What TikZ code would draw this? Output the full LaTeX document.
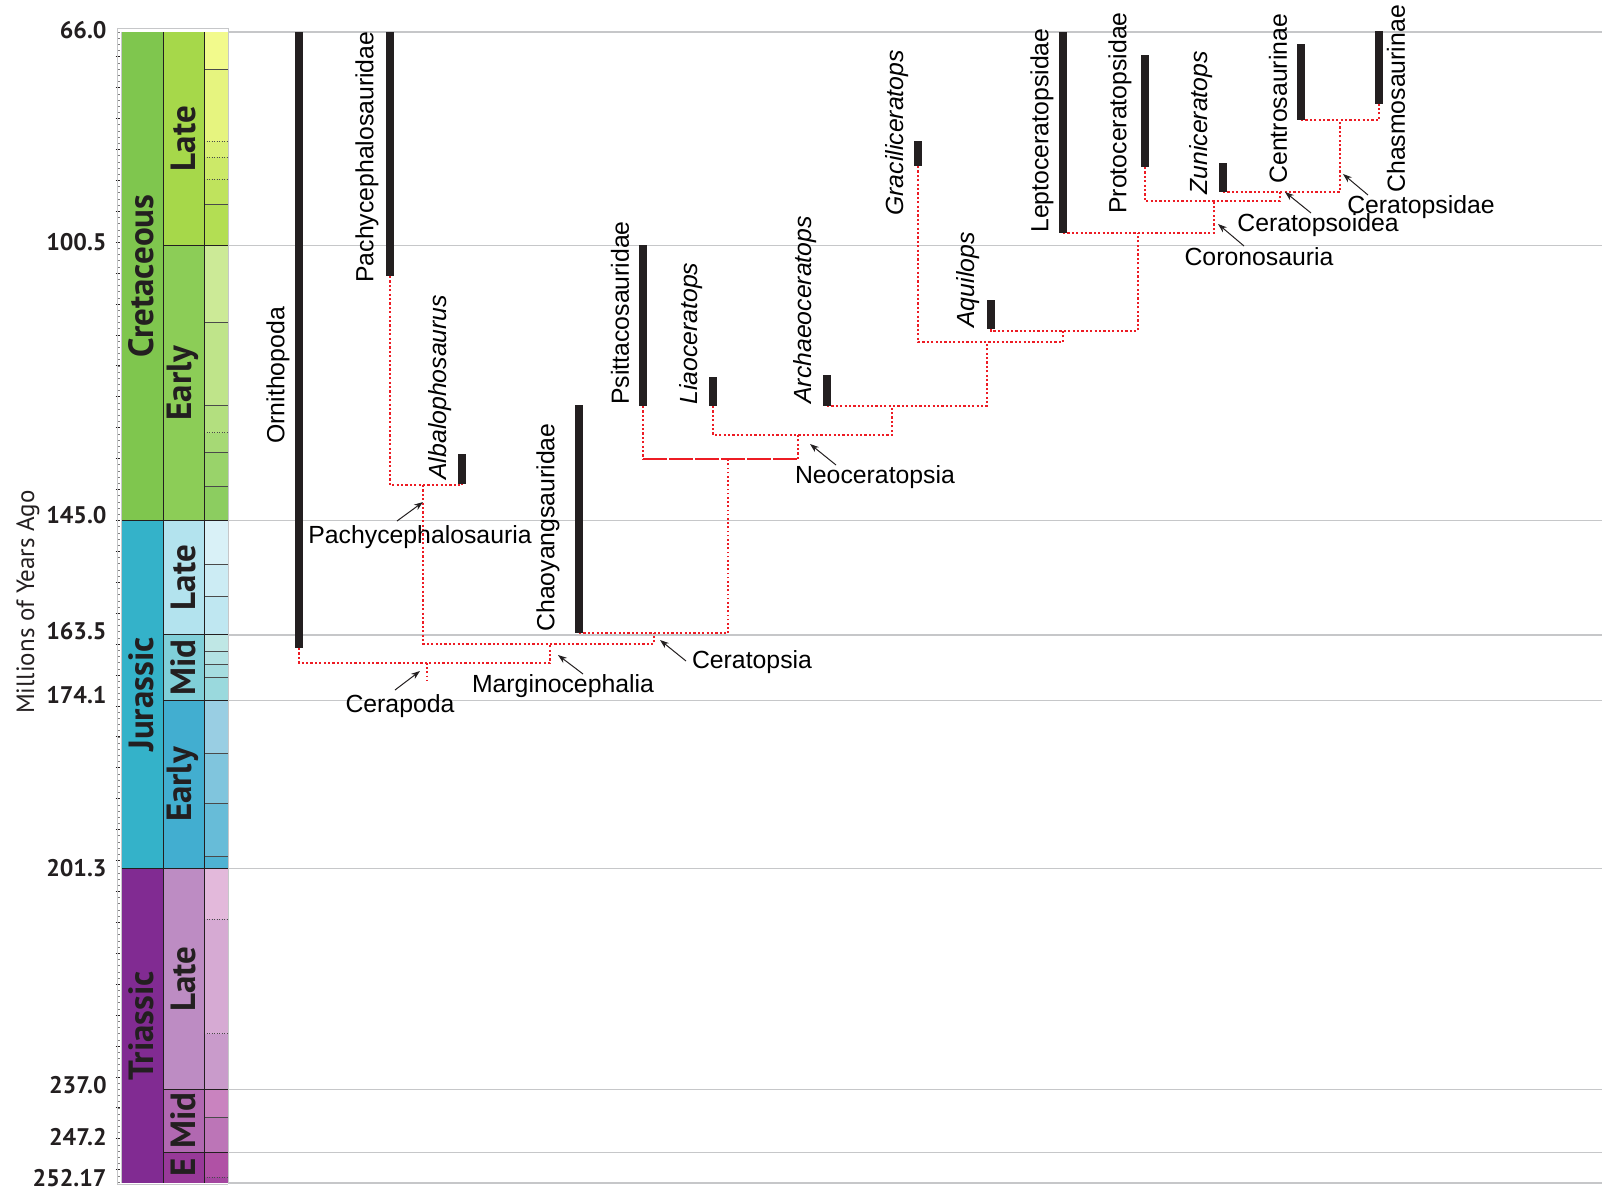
\documentclass[tikz,border=0pt]{standalone}
\usepackage{fontspec}
\setmainfont{Liberation Sans}
\newfontfamily\gtsfont{PT Sans}
\usepackage{tikz}
\usetikzlibrary{arrows.meta}
\definecolor{barblack}{HTML}{231F20}
\definecolor{linkred}{HTML}{ED1C24}
\definecolor{gridgray}{HTML}{C6C7C9}
\definecolor{inkgray}{HTML}{4A4A4A}
\tikzstyle{taxon_bar} = [line width=4pt, barblack]
\tikzstyle{taxon_name} = [rotate=90, anchor=west, inner sep=0pt, font=\fontsize{12.4}{14}\selectfont]
\tikzstyle{clade_name} = [anchor=base, inner sep=0pt, font=\fontsize{12.4}{14}\selectfont]
\tikzstyle{edge_link} = [linkred, line width=1pt, dash pattern=on 1.1pt off 1.1pt]
\tikzstyle{edge_fine} = [linkred, line width=0.6pt, dash pattern=on 0.8pt off 1.3pt]
\tikzstyle{edge_dash} = [linkred, line width=0.7pt, dash pattern=on 12pt off 1pt]
\tikzstyle{edge_note} = [barblack, line width=0.5pt, -{Stealth[length=4.5pt,width=3.2pt]}]
\tikzstyle{grid_line} = [gridgray, line width=0.7pt]
\tikzstyle{stage_line} = [inkgray, line width=0.25pt]
\tikzstyle{unit_line} = [barblack, line width=0.4pt]
\tikzstyle{age_label} = [anchor=east, inner sep=0pt, barblack, font=\gtsfont\bfseries\fontsize{12}{14}\selectfont]
\tikzstyle{unit_name} = [rotate=90, inner sep=0pt, barblack, font=\gtsfont\bfseries\fontsize{17.5}{19}\selectfont]

\begin{document}
\begin{tikzpicture}[x=0.5pt, y=-0.5pt]
\useasboundingbox (0,0) rectangle (1602,1200);

% geologic time scale, y given in Ma
\begin{scope}[y=-3.0915pt, yshift=188.05pt]
\foreach \t in {66,100.5,145,163.5,174.1,201.3,237,247.2,252.17}
  \draw[grid_line] (228,\t) -- (1602,\t);
% stages
\foreach \a/\b/\c in {66/72.1/F2FA8C, 72.1/83.6/E6F47F, 83.6/86.3/D9EF74, 86.3/89.8/CCE968,
    89.8/93.9/BFE35D, 93.9/100.5/B3DE53, 100.5/113/CCEA97, 113/126.3/BFE48A,
    126.3/130.8/B3DF7F, 130.8/133.9/A6D975, 133.9/139.4/99D36A, 139.4/145/8CCD60,
    145/152.1/D9F1F7, 152.1/157.3/CCECF4, 157.3/163.5/BFE7F1, 163.5/166.1/BFE7E5,
    166.1/168.3/B3E2E3, 168.3/170.3/A6DDE0, 170.3/174.1/9AD9DD, 174.1/182.7/99CEE3,
    182.7/190.8/80C5DD, 190.8/199.3/67BCD8, 199.3/201.3/4EB3D3, 201.3/209.5/E3B9DB,
    209.5/228/D6AAD3, 228/237/C99BCB, 237/241.5/C983BF, 241.5/247.2/BC75B7,
    247.2/251.2/B051A5, 251.2/252.17/A4469F}{
  \definecolor{fillnow}{HTML}{\c}
  \fill[fillnow] (204,\a) rectangle (228,\b);
}
\foreach \t in {72.1,93.9,113,126.3,133.9,139.4,152.1,157.3,166.1,168.3,170.3,182.7,190.8,199.3,241.5}
  \draw[stage_line] (204,\t) -- (228,\t);
\foreach \t in {83.6,86.3,89.8,130.8,209.5,228,251.2}
  \draw[stage_line, densely dotted] (204,\t) -- (228,\t);
% epochs
\foreach \a/\b/\c/\n [count=\i] in {66/100.5/A6D84A/Late, 100.5/145/8CCD57/Early,
    145/163.5/B3E3EE/Late, 163.5/174.1/80CFD8/Mid, 174.1/201.3/42AED0/Early,
    201.3/237/BD8CC3/Late, 237/247.2/B168B1/Mid, 247.2/252.17/983999/E}{
  \definecolor{fillnow}{HTML}{\c}
  \fill[fillnow] (163,\a) rectangle (204,\b);
  \node[unit_name] (ep\i) at (183,{(\a+\b)/2}) {\n};
}
% periods
\foreach \a/\b/\c/\n [count=\i] in {66/145/7FC64E/Cretaceous, 145/201.3/34B2C9/Jurassic,
    201.3/252.17/812B92/Triassic}{
  \definecolor{fillnow}{HTML}{\c}
  \fill[fillnow] (121,\a) rectangle (163,\b);
  \node[unit_name] (per\i) at (141,{(\a+\b)/2}) {\n};
}
\foreach \t in {100.5,163.5,174.1,237,247.2}
  \draw[unit_line] (163,\t) -- (228,\t);
\foreach \t in {145,201.3}
  \draw[unit_line] (121,\t) -- (228,\t);
\foreach \xx in {163,204}
  \draw[unit_line] (\xx,66) -- (\xx,252.17);
\draw[gridgray, line width=0.5pt] (121,66) -- (121,252.17) (228,66) -- (228,252.17);
% ticks
\foreach \t in {66,...,252}
  \draw[gray, line width=0.3pt] (117,\t) -- (120,\t);
\foreach \t in {70,75,...,250}
  \draw[barblack, line width=0.4pt] (115.5,\t) -- (120,\t);
\end{scope}
\draw[gridgray, line width=0.5pt] (117,28) -- (228,28) -- (228,32);
\draw[gridgray, line width=0.5pt] (117,28) -- (117,1184) -- (228,1184);

\foreach \a/\yy [count=\i] in {66.0/30, 100.5/242, 145.0/515, 163.5/631, 174.1/695,
    201.3/868, 237.0/1085, 247.2/1137, 252.17/1178}
  \node[age_label] (age\i) at (107,\yy) {\a};
\node[rotate=90, inner sep=0pt, barblack, font=\gtsfont\fontsize{12.5}{14}\selectfont] (axis) at (28,602) {Millions of Years Ago};

% range bars
\coordinate (OrnT) at (299,32);   \coordinate (OrnB) at (299,648);
\coordinate (PcdT) at (390,32);   \coordinate (PcdB) at (390,276);
\coordinate (AlbT) at (462,454);  \coordinate (AlbB) at (462,484);
\coordinate (ChaT) at (579,405);  \coordinate (ChaB) at (579,633);
\coordinate (PsiT) at (643,245);  \coordinate (PsiB) at (643,406);
\coordinate (LiaT) at (713,377);  \coordinate (LiaB) at (713,406);
\coordinate (ArcT) at (827,375);  \coordinate (ArcB) at (827,406);
\coordinate (GraT) at (918,141);  \coordinate (GraB) at (918,166);
\coordinate (AquT) at (991,300);  \coordinate (AquB) at (991,329);
\coordinate (LepT) at (1063,32);  \coordinate (LepB) at (1063,233);
\coordinate (ProT) at (1145,55);  \coordinate (ProB) at (1145,167);
\coordinate (ZunT) at (1223,163); \coordinate (ZunB) at (1223,192);
\coordinate (CenT) at (1301,44);  \coordinate (CenB) at (1301,120);
\coordinate (ChmT) at (1379,31);  \coordinate (ChmB) at (1379,104);

% clade points
\coordinate (Cerapoda) at (427,663);
\coordinate (Root) at (427,680);
\coordinate (Margino) at (550,644);
\coordinate (Pachy) at (423,485);
\coordinate (Ceratopsia) at (654,633);
\coordinate (PsiNeo) at (728,459);
\coordinate (Neocer) at (798,435);
\coordinate (N3) at (892,406);
\coordinate (N4) at (987,342);
\coordinate (N5) at (1063,331);
\coordinate (N6) at (1138,233);
\coordinate (Corono) at (1214,201);
\coordinate (Ceratoid) at (1280,192);
\coordinate (Ceratid) at (1340,120);

\draw[edge_link] (OrnB) |- (Cerapoda) -| (Margino);
\draw[edge_fine] (Cerapoda) -- (Root);
\draw[edge_link] (PcdB) |- (Pachy) -| (AlbB);
\draw[edge_link] (Pachy) |- (Margino) -| (Ceratopsia);
\draw[edge_link] (ChaB) |- (Ceratopsia) -- (PsiNeo |- Ceratopsia);
\draw[edge_fine] (PsiNeo |- Ceratopsia) -- (PsiNeo);
\draw[edge_link] (PsiB) -- (PsiB |- PsiNeo);
\draw[edge_dash] (PsiB |- PsiNeo) -- (Neocer |- PsiNeo);
\draw[edge_link] (Neocer |- PsiNeo) -- (Neocer);
\draw[edge_link] (LiaB) |- (Neocer) -| (N3);
\draw[edge_link] (ArcB) |- (N3) -| (N4);
\draw[edge_link] (GraB) |- (N4) -| (N5);
\draw[edge_link] (AquB) |- (N5) -| (N6);
\draw[edge_link] (LepB) |- (N6) -| (Corono);
\draw[edge_link] (ProB) |- (Corono) -| (Ceratoid);
\draw[edge_link] (ZunB) |- (Ceratoid) -| (Ceratid);
\draw[edge_link] (CenB) |- (Ceratid) -| (ChmB);

\draw[taxon_bar] (OrnT) -- (OrnB);
\draw[taxon_bar] (PcdT) -- (PcdB);
\draw[taxon_bar] (AlbT) -- (AlbB);
\draw[taxon_bar] (ChaT) -- (ChaB);
\draw[taxon_bar] (PsiT) -- (PsiB);
\draw[taxon_bar] (LiaT) -- (LiaB);
\draw[taxon_bar] (ArcT) -- (ArcB);
\draw[taxon_bar] (GraT) -- (GraB);
\draw[taxon_bar] (AquT) -- (AquB);
\draw[taxon_bar] (LepT) -- (LepB);
\draw[taxon_bar] (ProT) -- (ProB);
\draw[taxon_bar] (ZunT) -- (ZunB);
\draw[taxon_bar] (CenT) -- (CenB);
\draw[taxon_bar] (ChmT) -- (ChmB);

% taxon names
\node[taxon_name] (OrnL) at (278,444) {Ornithopoda};
\node[taxon_name] (PcdL) at (367,283) {Pachycephalosauridae};
\node[taxon_name] (AlbL) at (440,480) {\itshape Albalophosaurus};
\node[taxon_name] (ChaL) at (548,632) {Chaoyangsauridae};
\node[taxon_name] (PsiL) at (620,405) {Psittacosauridae};
\node[taxon_name] (LiaL) at (691,405) {\itshape Liaoceratops};
\node[taxon_name] (ArcL) at (805,404) {\itshape Archaeoceratops};
\node[taxon_name] (GraL) at (897,216) {\itshape Graciliceratops};
\node[taxon_name] (AquL) at (968,328) {\itshape Aquilops};
\node[taxon_name] (LepL) at (1042,233) {Leptoceratopsidae};
\node[taxon_name] (ProL) at (1120,214) {Protoceratopsidae};
\node[taxon_name] (ZunL) at (1201,195) {\itshape Zuniceratops};
\node[taxon_name] (CenL) at (1278,184) {Centrosaurinae};
\node[taxon_name] (ChmL) at (1396,193) {Chasmosaurinae};

% clade names
\node[clade_name] (CerapodaL) at (400,712) {Cerapoda};
\node[clade_name] (MarginoL) at (563,692) {Marginocephalia};
\node[clade_name] (PachyL) at (420,543) {Pachycephalosauria};
\node[clade_name] (CeratopsiaL) at (752,668) {Ceratopsia};
\node[clade_name] (NeocerL) at (875,483) {Neoceratopsia};
\node[clade_name] (CoronoL) at (1259,265) {Coronosauria};
\node[clade_name] (CeratoidL) at (1318,231) {Ceratopsoidea};
\node[clade_name] (CeratidL) at (1421,213) {Ceratopsidae};

\coordinate (CerapodaP) at (420,671);
\coordinate (MarginoP) at (558,655);
\coordinate (PachyP) at (423,502);
\coordinate (CeratopsiaP) at (660,640);
\coordinate (NeocerP) at (810,444);
\coordinate (CoronoP) at (1218,224);
\coordinate (CeratoidP) at (1285,192);
\coordinate (CeratidP) at (1343,174);

\draw[edge_note] ([shift={(-5,-22)}]CerapodaL.base) -- (CerapodaP);
\draw[edge_note] ([shift={(20,-18)}]MarginoL.base) -- (MarginoP);
\draw[edge_note] ([shift={(-23,-22)}]PachyL.base) -- (PachyP);
\draw[edge_note] ([shift={(-66,-7)}]CeratopsiaL.base) -- (CeratopsiaP);
\draw[edge_note] ([shift={(-39,-18)}]NeocerL.base) -- (NeocerP);
\draw[edge_note] ([shift={(-15,-19)}]CoronoL.base) -- (CoronoP);
\draw[edge_note] ([shift={(-7,-18)}]CeratoidL.base) -- (CeratoidP);
\draw[edge_note] ([shift={(-53,-18)}]CeratidL.base) -- (CeratidP);
\end{tikzpicture}
\end{document}
